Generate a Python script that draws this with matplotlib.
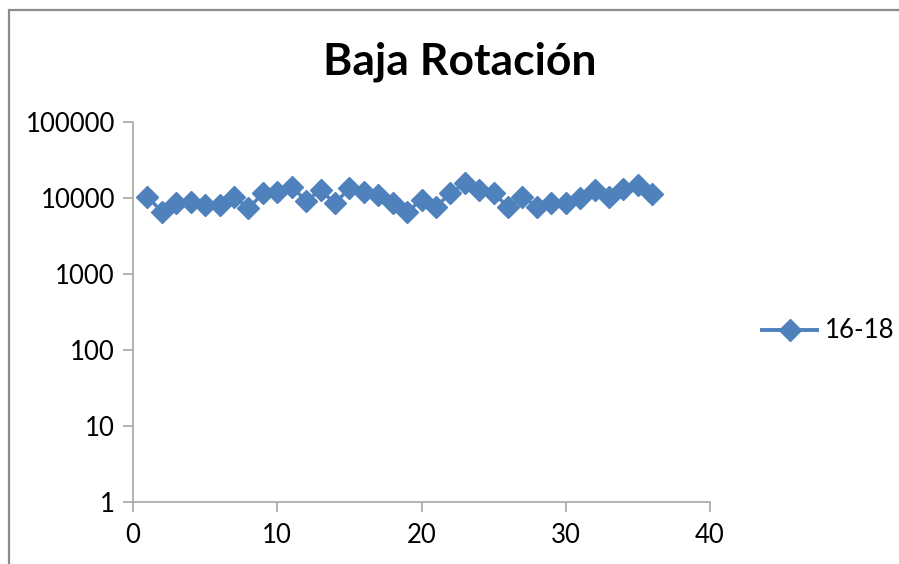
import matplotlib
matplotlib.use("Agg")
import matplotlib.pyplot as plt
from matplotlib.ticker import FixedLocator, FixedFormatter, NullLocator
from matplotlib.lines import Line2D
from matplotlib.patches import Rectangle

plt.rcParams['font.family'] = ['Lato', 'DejaVu Sans']

title = "Baja Rotación"
series_name = "16-18"
x_vals = list(range(1, 37))
y_vals = [10400, 6600, 8670, 8900, 8100, 8100, 10400, 7310, 11500, 11900,
          14100, 9200, 12700, 8500, 13400, 12100, 10900, 8500, 6600, 9400,
          7700, 11500, 15600, 12700, 11500, 7700, 10400, 7700, 8670, 8670,
          9900, 12700, 10200, 13000, 14800, 11200]
x_ticks = [0, 10, 20, 30, 40]
y_ticks = [1, 10, 100, 1000, 10000, 100000]
y_tick_labels = ["1", "10", "100", "1000", "10000", "100000"]

blue = "#4F81BD"
gray = "#A6A6A6"
fs = 18.5

fig = plt.figure(figsize=(8.99, 5.64), dpi=100)
fig.patches.append(Rectangle((9/899, -0.1), 1.2, 1 - 10/564 + 0.1,
                             transform=fig.transFigure, fill=False,
                             edgecolor="#8C8C8C", linewidth=1.6))
ax = fig.add_axes([133/899, 1 - 502/564, (710 - 133)/899, (502 - 122)/564])

ax.plot(x_vals, y_vals, color=blue, linewidth=2.5, marker='D',
        markersize=11.5, markeredgecolor=blue, markerfacecolor=blue)
ax.set_yscale('log')
ax.set_xlim(0, 40)
ax.set_ylim(1, 100000)

ax.xaxis.set_major_locator(FixedLocator(x_ticks))
ax.yaxis.set_major_locator(FixedLocator(y_ticks))
ax.yaxis.set_major_formatter(FixedFormatter(y_tick_labels))
ax.yaxis.set_minor_locator(NullLocator())
ax.xaxis.set_minor_locator(NullLocator())

for s in ['top', 'right']:
    ax.spines[s].set_visible(False)
for s in ['left', 'bottom']:
    ax.spines[s].set_color(gray)
    ax.spines[s].set_linewidth(1.2)
ax.tick_params(axis='both', which='major', length=7, width=1.2, color=gray,
               labelsize=fs, labelcolor="#000000", direction='out')
ax.tick_params(axis='y', pad=6)
ax.tick_params(axis='x', pad=8)

fig.text(460/899, 1 - 62/564, title, ha='center', va='center',
         fontsize=32, fontweight='bold')

handle = Line2D([0], [0], color=blue, linewidth=2.8, marker='D',
                markersize=11.5, markerfacecolor=blue, markeredgecolor=blue)
fig.legend([handle], [series_name], loc='center left',
           bbox_to_anchor=(762/899, 1 - 331/564), frameon=False,
           fontsize=fs, handlelength=2.15, handletextpad=0.3,
           borderpad=0, borderaxespad=0)

fig.savefig("out.png", dpi=100)
